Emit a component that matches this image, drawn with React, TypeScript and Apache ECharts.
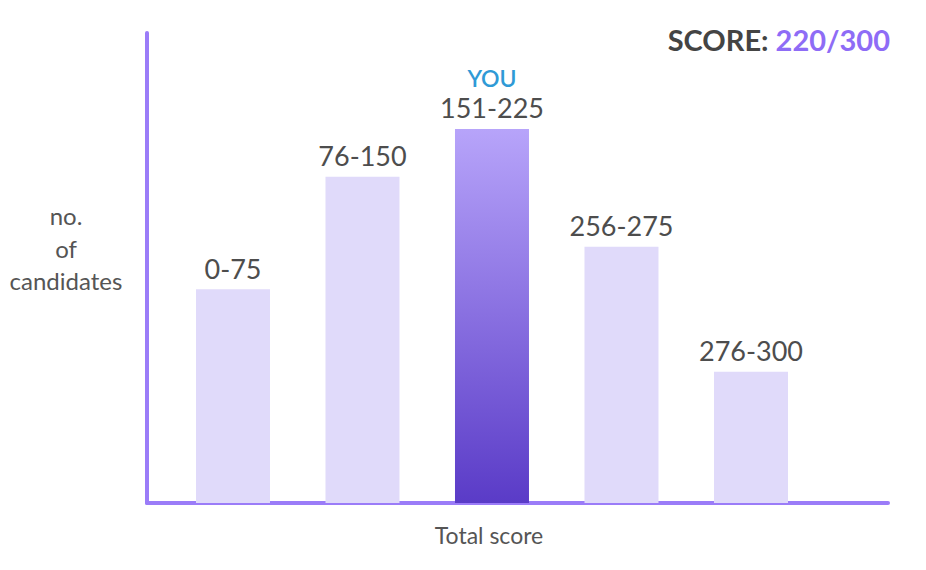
import React, { useEffect, useRef } from "react";
import * as echarts from "echarts";

const categories = ["0-75", "76-150", "151-225", "256-275", "276-300"];
const candidateShares = [45.5, 69.4, 79.6, 54.5, 27.9];
const positions = [0, 1, 2, 3, 4];
const youIndex = 2;
const scoreLabel = "SCORE: ";
const scoreValue = "220/300";
const yAxisTitle = "no.\nof\ncandidates";
const xAxisTitle = "Total score";

const FONT = "Lato, 'Open Sans', sans-serif";
const AXIS = "#9B7CF8";
const LIGHT = "#E0DAFA";
const TEXT = "#4D4D4D";

export default function App() {
  const ref = useRef<HTMLDivElement>(null);
  useEffect(() => {
    if (!ref.current) return;
    const chart = echarts.init(ref.current, undefined, { renderer: "svg" });
    const data = positions.map((p, i) => {
      const item: any = { value: [p, candidateShares[i]], name: categories[i] };
      if (i === youIndex) {
        item.itemStyle = {
          color: new echarts.graphic.LinearGradient(0, 0, 0, 1, [
            { offset: 0, color: "#B7A4FA" },
            { offset: 1, color: "#5A3BC7" },
          ]),
        };
        item.label = {
          formatter: () => "{you|YOU}\n{val|" + categories[i] + "}",
          rich: {
            you: { fontSize: 23, color: "#2F9AD6", fontWeight: 600, fontFamily: FONT, lineHeight: 32 },
            val: { fontSize: 27, color: TEXT, fontFamily: FONT, lineHeight: 28 },
          },
        };
      }
      return item;
    });
    chart.setOption({
      animation: false,
      grid: { left: 147, right: 38, top: 33, bottom: 67, containLabel: false },
      xAxis: {
        type: "value",
        min: -0.664,
        max: 5.058,
        axisLine: { show: true, onZero: false, lineStyle: { color: AXIS, width: 4 } },
        axisTick: { show: false },
        axisLabel: { show: false },
        splitLine: { show: false },
      },
      yAxis: {
        type: "value",
        min: 0,
        max: 100,
        axisLine: { show: true, onZero: false, lineStyle: { color: AXIS, width: 4 } },
        axisTick: { show: false },
        axisLabel: { show: false },
        splitLine: { show: false },
      },
      series: [
        {
          type: "bar",
          data,
          barWidth: 74,
          itemStyle: { color: LIGHT },
          label: {
            show: true,
            position: "top",
            distance: 7,
            formatter: (p: any) => p.name,
            fontSize: 27,
            lineHeight: 28,
            color: TEXT,
            fontFamily: FONT,
          },
        },
      ],
      graphic: [
        {
          type: "text",
          right: 36,
          top: 25,
          style: {
            text: "{a|" + scoreLabel + "}{b|" + scoreValue + "}",
            rich: {
              a: { fontSize: 29, fontWeight: "bold", fill: "#444444", fontFamily: FONT },
              b: { fontSize: 29, fontWeight: "bold", fill: "#8E6CF6", fontFamily: FONT },
            },
          },
        },
        {
          type: "text",
          x: 66,
          y: 248,
          style: {
            text: yAxisTitle,
            fontSize: 24,
            lineHeight: 32.5,
            fill: "#555555",
            fontFamily: FONT,
            align: "center",
            verticalAlign: "middle",
          },
        },
        {
          type: "text",
          x: 489,
          y: 535,
          style: {
            text: xAxisTitle,
            fontSize: 23,
            fill: "#555555",
            fontFamily: FONT,
            align: "center",
            verticalAlign: "middle",
          },
        },
      ],
    });
    return () => chart.dispose();
  }, []);
  return <div ref={ref} style={{ width: 926, height: 570, margin: -8 }} />;
}
